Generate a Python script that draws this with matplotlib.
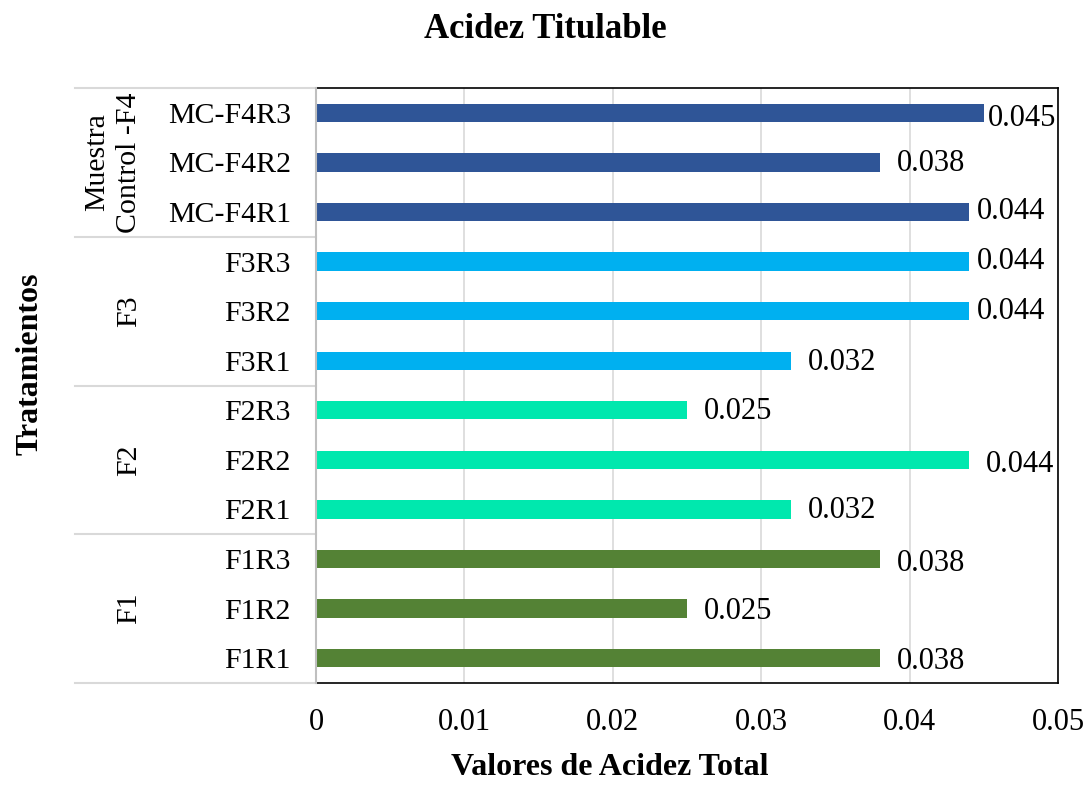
import matplotlib
matplotlib.use("Agg")
import matplotlib.pyplot as plt
import matplotlib.transforms as mtransforms

# data (bottom to top)
labels = ['F1R1', 'F1R2', 'F1R3',
          'F2R1', 'F2R2', 'F2R3',
          'F3R1', 'F3R2', 'F3R3',
          'MC-F4R1', 'MC-F4R2', 'MC-F4R3']
values = [0.038, 0.025, 0.038,
          0.032, 0.044, 0.025,
          0.032, 0.044, 0.044,
          0.044, 0.038, 0.045]
groups = ['F1', 'F2', 'F3', 'Muestra\nControl -F4']
group_colors = ['#548235', '#00E8AE', '#00B0F0', '#2F5597']
x_ticks = [0, 0.01, 0.02, 0.03, 0.04, 0.05]
x_ticklabels = ['0', '0.01', '0.02', '0.03', '0.04', '0.05']

# label offsets (points) and vertical nudges, as placed in the original
label_pad = [12, 12, 12, 12, 12, 12, 12, 6, 6, 6, 12, 3]
label_dy = [-2, -2, -3, -1, -3, -1, -1, 0, 0, 0, -1, -4]

plt.rcParams['font.family'] = ['Liberation Serif', 'DejaVu Serif']

fig = plt.figure(figsize=(10.9, 7.85), dpi=100)
ax = fig.add_axes([0.2899, 0.1299, 0.6807, 0.758])

colors = [group_colors[i // 3] for i in range(len(values))]
y = list(range(len(values)))
ax.barh(y, values, height=0.37, color=colors, zorder=3)

for yi, v, p, dy in zip(y, values, label_pad, label_dy):
    ax.annotate(f'{v:.3f}', xy=(v, yi), xytext=(p, dy), textcoords='offset points',
                ha='left', va='center', fontsize=22, zorder=4)

ax.set_xlim(0, 0.05)
ax.set_ylim(-0.5, len(values) - 0.5)
ax.set_xticks(x_ticks)
ax.set_xticklabels(x_ticklabels, fontsize=22)
ax.set_yticks(y)
ax.set_yticklabels(labels, fontsize=21.5)
ax.tick_params(axis='both', length=0)
ax.tick_params(axis='y', pad=18)
ax.tick_params(axis='x', pad=18)
ax.xaxis.grid(True, color='#d9d9d9', linewidth=1.2, zorder=0)
ax.set_axisbelow(True)

for s in ['top', 'right', 'bottom']:
    ax.spines[s].set_color('black')
    ax.spines[s].set_linewidth(1.2)
ax.spines['left'].set_color('#bfbfbf')
ax.spines['left'].set_linewidth(1.5)
ax.spines['left'].set_zorder(5)

# group separators and group names on the category axis
trans = mtransforms.blended_transform_factory(ax.transAxes, ax.transData)
for k in range(len(groups) + 1):
    yb = k * 3 - 0.5
    ax.plot([-0.325, 0], [yb, yb], color='#d9d9d9', linewidth=1.5,
            transform=trans, clip_on=False)
for k, g in enumerate(groups):
    xg = -0.273 if '\n' in g else -0.252
    ax.text(xg, k * 3 + 1, g, transform=trans, rotation=90, ha='center',
            va='center', fontsize=21.5, linespacing=1.3)

fig.text(0.5, 0.962, 'Acidez Titulable', ha='center', va='center',
         fontsize=25, fontweight='bold')
fig.text(0.559, 0.022, 'Valores de Acidez Total', ha='center', va='center',
         fontsize=23, fontweight='bold')
fig.text(0.028, 0.536, 'Tratamientos', ha='center', va='center',
         fontsize=23, fontweight='bold', rotation=90)

fig.savefig('out.png', dpi=100)
